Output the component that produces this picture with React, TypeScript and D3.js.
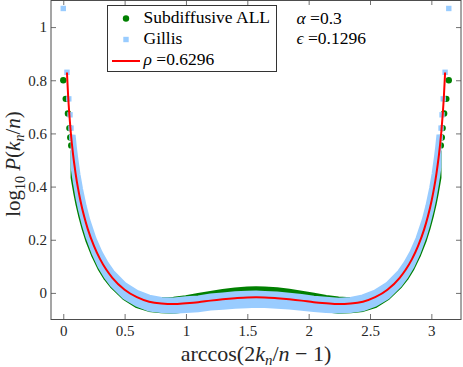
import React, { useEffect, useRef } from 'react';
import * as d3 from 'd3';

const W = 463;
const H = 367;
const margin = { top: 0, right: 2, bottom: 48, left: 51 };

const xTicks = [0, 0.5, 1, 1.5, 2, 2.5, 3];
const yTicks = [0, 0.2, 0.4, 0.6, 0.8, 1];

// fitted curve (rho = 0.6296)
const fitX = [
  0.03, 0.04, 0.05, 0.06, 0.07, 0.08, 0.09, 0.1, 0.12, 0.14, 0.17, 0.2, 0.25, 0.3, 0.35, 0.4, 0.5, 0.6,
  0.7, 0.8, 0.9, 1.0, 1.1, 1.2, 1.3, 1.4, 1.5, 1.571, 1.642, 1.742, 1.842, 1.942, 2.042, 2.142, 2.242,
  2.342, 2.442, 2.542, 2.642, 2.742, 2.792, 2.842, 2.892, 2.942, 2.972, 3.002, 3.022, 3.042, 3.052,
  3.062, 3.072, 3.082, 3.092, 3.102, 3.112,
];
const fitY = [
  0.829, 0.738, 0.668, 0.61, 0.562, 0.52, 0.484, 0.451, 0.394, 0.347, 0.288, 0.24, 0.177, 0.127, 0.088,
  0.057, 0.012, -0.016, -0.033, -0.04, -0.042, -0.039, -0.035, -0.029, -0.024, -0.02, -0.017, -0.0165,
  -0.017, -0.02, -0.024, -0.029, -0.035, -0.039, -0.042, -0.04, -0.033, -0.016, 0.012, 0.057, 0.088,
  0.127, 0.177, 0.24, 0.288, 0.347, 0.394, 0.451, 0.484, 0.52, 0.562, 0.61, 0.668, 0.738, 0.829,
];

// dense part of the two point clouds: upper / lower envelope of marker centres
const cloudX = [
  0.08, 0.09, 0.1, 0.12, 0.14, 0.17, 0.2, 0.25, 0.3, 0.35, 0.4, 0.5, 0.6, 0.7, 0.8, 0.9, 1.0, 1.1, 1.2,
  1.3, 1.4, 1.5, 1.571, 1.642, 1.742, 1.842, 1.942, 2.042, 2.142, 2.242, 2.342, 2.442, 2.542, 2.642,
  2.742, 2.792, 2.842, 2.892, 2.942, 2.972, 3.002, 3.022, 3.042, 3.052, 3.062,
];
const gillisHigh = [
  0.594, 0.55, 0.512, 0.446, 0.393, 0.327, 0.274, 0.205, 0.152, 0.111, 0.078, 0.031, 0.002, -0.016,
  -0.025, -0.027, -0.022, -0.019, -0.012, -0.008, -0.003, -0.001, 0.0, -0.002, -0.004, -0.009, -0.013,
  -0.02, -0.024, -0.028, -0.025, -0.015, 0.003, 0.032, 0.079, 0.112, 0.153, 0.206, 0.275, 0.328, 0.394,
  0.447, 0.513, 0.551, 0.595,
];
const gillisLow = [
  0.473, 0.441, 0.411, 0.358, 0.314, 0.259, 0.212, 0.15, 0.1, 0.061, 0.03, -0.015, -0.043, -0.061,
  -0.066, -0.069, -0.066, -0.063, -0.057, -0.054, -0.05, -0.048, -0.046, -0.047, -0.05, -0.053, -0.058,
  -0.062, -0.066, -0.068, -0.066, -0.06, -0.043, -0.015, 0.03, 0.061, 0.1, 0.15, 0.212, 0.259, 0.314,
  0.358, 0.411, 0.441, 0.473,
];
const subHigh = [
  0.533, 0.495, 0.462, 0.403, 0.355, 0.295, 0.247, 0.183, 0.132, 0.093, 0.061, 0.016, -0.01, -0.024,
  -0.026, -0.024, -0.018, -0.01, -0.002, 0.005, 0.011, 0.015, 0.016, 0.015, 0.012, 0.006, -0.001, -0.009,
  -0.017, -0.023, -0.026, -0.024, -0.01, 0.016, 0.061, 0.093, 0.132, 0.183, 0.247, 0.295, 0.355, 0.403,
  0.462, 0.495, 0.533,
];
const subLow = [
  0.434, 0.407, 0.38, 0.333, 0.293, 0.241, 0.197, 0.139, 0.091, 0.054, 0.025, -0.019, -0.048, -0.062,
  -0.067, -0.069, -0.063, -0.055, -0.049, -0.044, -0.04, -0.037, -0.036, -0.037, -0.04, -0.044, -0.049,
  -0.055, -0.063, -0.069, -0.067, -0.062, -0.048, -0.019, 0.025, 0.054, 0.091, 0.139, 0.197, 0.241,
  0.293, 0.333, 0.38, 0.407, 0.434,
];

// sparse points at both ends
const subEndX = [0, 0.02, 0.038, 0.05, 0.057, 0.065, 3.077, 3.085, 3.092, 3.104, 3.122, 3.142];
const subEndY = [0.8, 0.73, 0.675, 0.62, 0.585, 0.555, 0.555, 0.585, 0.62, 0.675, 0.73, 0.8];
const gillisEndX = [0, 0.03, 0.045, 0.055, 0.063, 0.07, 3.072, 3.079, 3.087, 3.097, 3.112, 3.142];
const gillisEndY = [1.07, 0.83, 0.73, 0.67, 0.62, 0.585, 0.585, 0.62, 0.67, 0.73, 0.83, 1.07];

const GREEN = '#008000';
const BLUE = '#99ccff';
const RED = '#ff0000';
const FONT = "'Liberation Serif', 'Times New Roman', serif";

const App = () => {
  const ref = useRef<SVGSVGElement | null>(null);

  useEffect(() => {
    const root = d3.select(ref.current);
    root.selectAll('*').remove();

    const width = W - margin.left - margin.right;
    const height = H - margin.top - margin.bottom;

    const svg = root.append('g').attr('transform', `translate(${margin.left},${margin.top})`);

    const x = d3.scaleLinear().domain([-0.1, Math.PI + 0.1]).range([0, width]);
    const y = d3.scaleLinear().domain([-0.1, 1.1]).range([height + 0.5, 0.5]);

    svg.append('rect').attr('width', width).attr('height', height).attr('fill', 'white');

    // point clouds as filled envelopes
    const cloud = (hi: number[], lo: number[]) => {
      const pts: [number, number][] = [];
      cloudX.forEach((d, i) => pts.push([x(d), y(hi[i])]));
      for (let i = cloudX.length - 1; i >= 0; i--) pts.push([x(cloudX[i]), y(lo[i])]);
      return d3.line().curve(d3.curveLinearClosed)(pts);
    };

    svg
      .append('path')
      .attr('d', cloud(subHigh, subLow))
      .attr('fill', GREEN)
      .attr('stroke', GREEN)
      .attr('stroke-width', 5)
      .attr('stroke-linejoin', 'round');

    svg
      .selectAll('.sub-end')
      .data(subEndX)
      .enter()
      .append('circle')
      .attr('cx', (d) => x(d))
      .attr('cy', (d, i) => y(subEndY[i]))
      .attr('r', 3.2)
      .attr('fill', GREEN);

    svg
      .append('path')
      .attr('d', cloud(gillisHigh, gillisLow))
      .attr('fill', BLUE)
      .attr('stroke', BLUE)
      .attr('stroke-width', 5)
      .attr('stroke-linejoin', 'miter');

    svg
      .selectAll('.gillis-end')
      .data(gillisEndX)
      .enter()
      .append('rect')
      .attr('x', (d) => x(d) - 2.7)
      .attr('y', (d, i) => y(gillisEndY[i]) - 2.7)
      .attr('width', 5.4)
      .attr('height', 5.4)
      .attr('fill', BLUE);

    // fit line
    const line = d3
      .line<number>()
      .x((d) => x(d))
      .y((d, i) => y(fitY[i]))
      .curve(d3.curveMonotoneX);
    svg
      .append('path')
      .attr('d', line(fitX))
      .attr('fill', 'none')
      .attr('stroke', RED)
      .attr('stroke-width', 2);

    // axes, box with inward ticks
    const styleAxis = (g: any) => {
      g.select('.domain').remove();
      g.selectAll('line').attr('stroke', '#4d4d4d').attr('stroke-width', 0.8);
      g.selectAll('text').attr('font-family', FONT).attr('font-size', 15).attr('fill', '#262626');
    };

    svg
      .append('g')
      .attr('transform', `translate(0,${height})`)
      .call(d3.axisBottom(x).tickValues(xTicks).tickSize(-5).tickPadding(6).tickFormat((d) => String(d)))
      .call(styleAxis);
    svg
      .append('g')
      .call(d3.axisTop(x).tickValues(xTicks).tickSize(-5).tickFormat(() => ''))
      .call(styleAxis);
    svg
      .append('g')
      .call(d3.axisLeft(y).tickValues(yTicks).tickSize(-5).tickPadding(4).tickFormat((d) => String(d)))
      .call(styleAxis);
    svg
      .append('g')
      .attr('transform', `translate(${width},0)`)
      .call(d3.axisRight(y).tickValues(yTicks).tickSize(-5).tickFormat(() => ''))
      .call(styleAxis);

    svg
      .append('rect')
      .attr('x', 0)
      .attr('y', 0.5)
      .attr('width', width)
      .attr('height', height)
      .attr('fill', 'none')
      .attr('stroke', '#4d4d4d')
      .attr('stroke-width', 1);

    // x-axis label
    const xl = root
      .append('text')
      .attr('x', margin.left + width / 2)
      .attr('y', 361)
      .attr('text-anchor', 'middle')
      .attr('font-family', FONT)
      .attr('font-size', 22)
      .attr('fill', '#262626');
    xl.append('tspan').text('arccos(2');
    xl.append('tspan').attr('font-style', 'italic').text('k');
    xl.append('tspan').attr('font-style', 'italic').attr('font-size', 15).attr('dy', 4).text('n');
    xl.append('tspan').attr('dy', -4).text('/');
    xl.append('tspan').attr('font-style', 'italic').text('n');
    xl.append('tspan').text(' \u2212 1)');

    // y-axis label
    const yl = root
      .append('text')
      .attr('transform', 'translate(20,164) rotate(-90)')
      .attr('text-anchor', 'middle')
      .attr('font-family', FONT)
      .attr('font-size', 21)
      .attr('fill', '#262626');
    yl.append('tspan').text('log');
    yl.append('tspan').attr('font-size', 14).attr('dy', 5).text('10');
    yl.append('tspan').attr('dy', -5).text(' ');
    yl.append('tspan').attr('font-style', 'italic').text('P');
    yl.append('tspan').text('(');
    yl.append('tspan').attr('font-style', 'italic').text('k');
    yl.append('tspan').attr('font-style', 'italic').attr('font-size', 14).attr('dy', 4).text('n');
    yl.append('tspan').attr('dy', -4).text('/');
    yl.append('tspan').attr('font-style', 'italic').text('n');
    yl.append('tspan').text(')');

    // legend
    const lg = root.append('g');
    lg.append('rect')
      .attr('x', 107.5)
      .attr('y', 5.5)
      .attr('width', 169)
      .attr('height', 66)
      .attr('fill', 'white')
      .attr('stroke', '#333')
      .attr('stroke-width', 1);
    lg.append('circle').attr('cx', 126).attr('cy', 18.5).attr('r', 3.2).attr('fill', GREEN);
    lg.append('rect').attr('x', 123.3).attr('y', 36.8).attr('width', 5.4).attr('height', 5.4).attr('fill', BLUE);
    lg.append('line').attr('x1', 112).attr('x2', 140).attr('y1', 61).attr('y2', 61).attr('stroke', RED).attr('stroke-width', 2);
    const legendText = (yy: number) =>
      lg.append('text').attr('x', 143.5).attr('y', yy).attr('font-family', FONT).attr('font-size', 17.5).attr('fill', '#000');
    legendText(22.5).text('Subdiffusive ALL');
    legendText(43.5).text('Gillis');
    const rho = legendText(64.5);
    rho.append('tspan').attr('font-style', 'italic').text('\u03c1');
    rho.append('tspan').text(' =0.6296');

    // parameter annotation
    const ann = (yy: number, sym: string, val: string) => {
      const t = root.append('text').attr('x', 296.5).attr('y', yy).attr('font-family', FONT).attr('font-size', 17.5).attr('fill', '#000');
      t.append('tspan').attr('font-style', 'italic').text(sym);
      t.append('tspan').text(' =' + val);
    };
    ann(23.5, '\u03b1', '0.3');
    ann(44, '\u03f5', '0.1296');
  }, []);

  return (
    <svg
      ref={ref}
      width={W}
      height={H}
      style={{ position: 'absolute', left: 0, top: 0, background: 'white' }}
    />
  );
};

export default App;
